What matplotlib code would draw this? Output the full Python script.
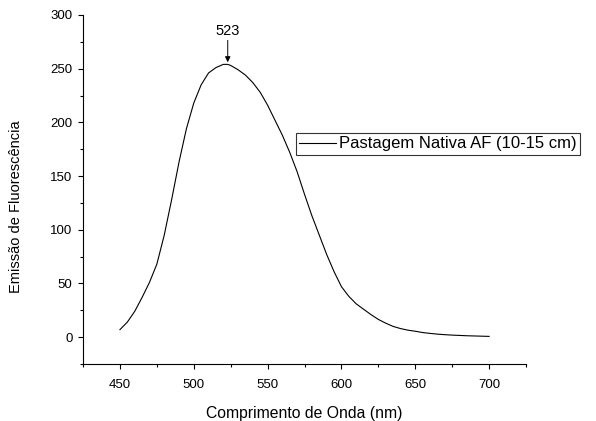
import numpy as np
import matplotlib.pyplot as plt
from matplotlib.ticker import MultipleLocator

plt.rcParams['font.family'] = ['Liberation Sans', 'DejaVu Sans']

# Emission spectrum
wavelength = [450, 455, 460, 465, 470, 475, 480, 485, 490, 495, 500, 505, 510,
              515, 520, 523, 525, 530, 535, 540, 545, 550, 555, 560, 565, 570,
              575, 580, 585, 590, 595, 600, 605, 610, 615, 620, 625, 630, 635,
              640, 645, 650, 655, 660, 665, 670, 675, 680, 685, 690, 695, 700]
emission = [7, 14, 24, 37, 51, 68, 95, 128, 163, 194, 218, 235, 246,
            251, 254, 254, 253, 249, 244, 237, 228, 216, 202, 188, 172, 154,
            133, 113, 95, 77, 61, 47, 38, 31, 26, 21, 16.5, 13, 10,
            8, 6.5, 5.5, 4.3, 3.5, 2.8, 2.3, 1.9, 1.6, 1.3, 1.1, 0.9, 0.7]
peak_x = 523
peak_y = 256

fig = plt.figure(figsize=(5.96, 4.21), dpi=100)
ax = fig.add_axes([0.1393, 0.1354, 0.7433, 0.829])

ax.plot(wavelength, emission, color='black', lw=0.8,
        label='Pastagem Nativa AF (10-15 cm)')

ax.annotate(str(peak_x), xy=(peak_x, peak_y), xytext=(peak_x, 279),
            ha='center', va='bottom', fontsize=10.5,
            arrowprops=dict(arrowstyle='-|>', color='black', lw=0.7,
                            mutation_scale=8, shrinkA=0, shrinkB=0))

ax.set_xlim(425, 725)
ax.set_ylim(-25, 300)
ax.xaxis.set_minor_locator(MultipleLocator(25))
ax.yaxis.set_minor_locator(MultipleLocator(25))
ax.set_xticks([450, 500, 550, 600, 650, 700])
ax.set_yticks([0, 50, 100, 150, 200, 250, 300])

for s in ['top', 'right']:
    ax.spines[s].set_visible(False)
for s in ['left', 'bottom']:
    ax.spines[s].set_linewidth(0.8)

ax.tick_params(which='major', direction='out', length=3.6, width=0.8,
               labelsize=9.5, pad=4)
ax.tick_params(which='minor', direction='out', length=2, width=0.8)
ax.tick_params(axis='x', which='major', pad=7)

ax.set_xlabel('Comprimento de Onda (nm)', fontsize=11.3)
ax.set_ylabel('Emissão de Fluorescência', fontsize=10.5)
ax.xaxis.set_label_coords(0.5, -0.12)
ax.yaxis.set_label_coords(-0.135, 0.45)

leg = fig.legend(loc='upper left', bbox_to_anchor=(0.4966, 0.684),
                 fontsize=12, frameon=True, fancybox=False,
                 handlelength=2.2, handletextpad=0.2, borderpad=0.2,
                 borderaxespad=0)
leg.get_frame().set_edgecolor('black')
leg.get_frame().set_linewidth(0.8)

fig.savefig('out.png', dpi=100)
